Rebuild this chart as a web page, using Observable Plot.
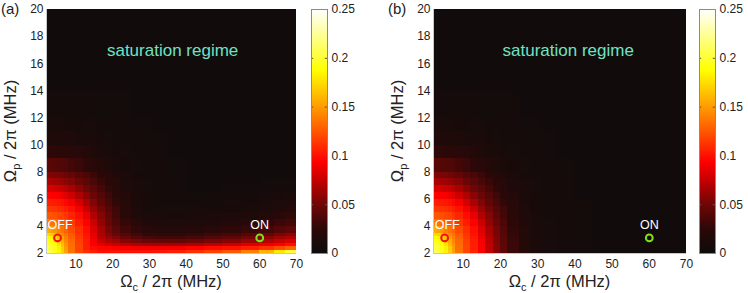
<!DOCTYPE html>
<html><head><meta charset="utf-8">
<script src="https://cdn.jsdelivr.net/npm/d3@7"></script>
<script src="https://cdn.jsdelivr.net/npm/@observablehq/plot@0.6"></script>
<style>
body{margin:0;background:#fff;}
#chart{position:relative;width:748px;height:293px;font-family:"Liberation Sans",Arial,sans-serif;}
#chart svg{position:absolute;top:0;overflow:visible;}
</style></head><body><div id="chart"></div>
<script>
// ---- grid (cell edges, MHz) ----
const xEdges = [2,3,4,5,6,7,8,10,12,14,16,18,20,22,25,28,31,35,40,45,50,55,60,64,67,70];
const yEdges = [2,2.25,2.5,2.75,3,3.25,3.5,4,4.5,5,5.5,6,6.5,7,7.5,8,9,10,11,12,14,20];
const xTicks = [10,20,30,40,50,60,70];
const yTicks = [2,4,6,8,10,12,14,16,18,20];
const cbTicks = [0,0.05,0.1,0.15,0.2,0.25];

// ---- panel (a) values, units of 0.001, rows from bottom (y=2) to top ----
const panelA = [
[210,202,194,184,169,153,135,119,110,105,100,100,100,100,100,100,102,105,110,117,125,140,160,180,200],
[205,199,192,182,167,151,134,119,105,98,95,95,93,92,90,90,90,92,95,98,100,105,112,120,128],
[199,195,189,177,163,148,133,118,105,92,85,80,76,72,68,66,65,66,68,72,76,82,88,93,98],
[193,190,183,171,157,143,131,117,104,91,77,70,64,57,52,48,46,46,48,52,57,63,70,76,82],
[186,182,174,163,151,139,129,115,103,89,71,62,55,47,40,36,34,34,36,40,44,50,57,64,70],
[174,170,164,154,143,136,126,113,101,87,69,56,48,40,33,28,26,26,28,31,35,40,46,53,58],
[156,153,148,140,135,130,121,110,99,83,66,51,42,34,27,22,19,18,19,22,25,29,34,40,44],
[137,135,133,130,126,122,114,104,94,78,60,47,37,28,21,17,14,13,14,16,18,21,25,30,34],
[125,124,122,119,117,113,107,98,86,70,56,44,34,23,15,12,11,10,11,12,13,15,18,22,26],
[114,113,112,110,108,105,100,90,77,62,50,40,31,22,14,10,9,9,9,10,10,11,13,16,19],
[105,104,103,102,100,96,91,80,67,55,44,36,27,20,12,10,8,8,8,8,9,10,11,13,15],
[95,94,93,91,88,85,78,68,58,48,40,31,24,18,12,10,7,7,6,7,8,8,9,10,11],
[81,81,79,77,75,72,66,58,49,42,35,26,22,16,11,9,7,7,5,5,6,6,7,7,8],
[67,66,65,63,61,59,55,48,42,36,29,24,20,13,11,9,7,6,5,5,5,5,6,6,6],
[55,54,53,52,50,48,45,40,36,30,24,21,17,12,10,8,7,6,5,5,5,5,5,5,5],
[41,41,40,39,38,37,34,30,25,22,19,15,12,10,9,7,7,6,5,5,5,5,5,5,5],
[25,25,25,24,24,23,22,20,18,15,12,11,10,9,7,7,6,5,5,5,5,5,5,5,5],
[16,16,16,15,15,15,14,12,11,11,10,9,8,7,7,6,6,5,5,5,5,5,5,5,5],
[11,11,11,11,11,10,10,10,9,9,8,7,7,7,6,6,5,5,5,5,5,5,5,5,5],
[7,7,7,7,7,7,7,7,7,6,6,6,6,6,5,5,5,5,5,5,5,5,5,5,5],
[5,5,5,5,5,5,5,5,5,5,5,5,5,5,5,5,5,5,5,5,5,5,5,5,5]
];

// ---- panel (b) values, units of 0.001 ----
const panelB = [
[210,202,194,184,169,153,135,119,106,93,74,56,43,30,19,12,9,7,6,5,5,5,5,5,5],
[205,199,192,182,167,151,134,119,105,93,74,56,43,30,19,12,9,7,6,5,5,5,5,5,5],
[199,195,189,177,163,148,133,118,105,92,73,55,43,30,19,12,9,7,6,5,5,5,5,5,5],
[193,190,183,171,157,143,131,117,104,91,72,55,42,30,19,12,9,7,6,5,5,5,5,5,5],
[186,182,174,163,151,139,129,115,103,89,71,54,42,29,19,11,9,7,6,5,5,5,5,5,5],
[174,170,164,154,143,136,126,113,101,87,69,53,41,28,18,11,9,7,6,5,5,5,5,5,5],
[156,153,148,140,135,130,121,110,99,83,66,51,40,27,18,11,9,7,6,5,5,5,5,5,5],
[137,135,133,130,126,122,114,104,94,78,60,47,37,25,17,11,9,7,6,5,5,5,5,5,5],
[125,124,122,119,117,113,107,98,86,70,56,44,34,23,15,11,8,7,6,5,5,5,5,5,5],
[114,113,112,110,108,105,100,90,77,62,50,40,31,22,14,10,8,7,6,5,5,5,5,5,5],
[105,104,103,102,100,96,91,80,67,55,44,36,27,20,12,10,7,7,6,5,5,5,5,5,5],
[95,94,93,91,88,85,78,68,58,48,40,31,24,18,12,10,7,7,5,5,5,5,5,5,5],
[81,81,79,77,75,72,66,58,49,42,35,26,22,16,11,9,7,7,5,5,5,5,5,5,5],
[67,66,65,63,61,59,55,48,42,36,29,24,20,13,11,9,7,6,5,5,5,5,5,5,5],
[55,54,53,52,50,48,45,40,36,30,24,21,17,12,10,8,7,6,5,5,5,5,5,5,5],
[41,41,40,39,38,37,34,30,25,22,19,15,12,10,9,7,7,6,5,5,5,5,5,5,5],
[25,25,25,24,24,23,22,20,18,15,12,11,10,9,7,7,6,5,5,5,5,5,5,5,5],
[16,16,16,15,15,15,14,12,11,11,10,9,8,7,7,6,6,5,5,5,5,5,5,5,5],
[11,11,11,11,11,10,10,10,9,9,8,7,7,7,6,6,5,5,5,5,5,5,5,5,5],
[7,7,7,7,7,7,7,7,7,6,6,6,6,6,5,5,5,5,5,5,5,5,5,5,5],
[5,5,5,5,5,5,5,5,5,5,5,5,5,5,5,5,5,5,5,5,5,5,5,5,5]
];

// ---- markers and annotations ----
const markerLabels = ["OFF","ON"];
const markerX = [5,60];
const markerY = [3.15,3.15];
const markerColors = ["#f01414","#7fe01c"];
const annotText = "saturation regime";
const annotXA = 36.3, annotXB = 38.2, annotY = 17.0;

// ---- colormap (MATLAB "hot"-like) ----
const cmapStops = [0,0.025,0.05,0.075,0.094,0.14,0.1875,0.25];
const cmapColors = ["#0c0c0c","#2c0808","#700606","#c40000","#ff0000","#ff8000","#ffff00","#ffffff"];
const colorScale = {type:"linear", domain:cmapStops, range:cmapColors, interpolate:"rgb", clamp:true};

const font = "Liberation Sans, Arial, sans-serif";
const style = {fontFamily:font, fontSize:"12px", color:"#222", background:"transparent", overflow:"visible"};

function cells(rows){
  const out=[];
  rows.forEach((row,i)=>row.forEach((v,j)=>out.push({x1:xEdges[j],x2:xEdges[j+1],y1:yEdges[i],y2:yEdges[i+1],v:v/1000})));
  return out;
}
const markers = markerLabels.map((l,i)=>({label:l,x:markerX[i],y:markerY[i]}));

function heat(rows, width, annotX, tag){
  const fw = tag==="a"?250:253;
  const svg = Plot.plot({
    width, height:293, marginLeft:46, marginRight:width-46-fw, marginTop:9, marginBottom:40,
    style,
    x:{domain:[2,70], ticks:xTicks, tickSize:0, tickPadding:6, label:null},
    y:{domain:[2,20], ticks:yTicks, tickSize:0, tickPadding:3, label:null},
    color:colorScale,
    marks:[
      Plot.rect(cells(rows), {x1:"x1",x2:"x2",y1:"y1",y2:"y2",fill:"v",shapeRendering:"crispEdges"}),
      Plot.ruleX([2],{stroke:"#c8c8c8"}),
      Plot.ruleY([2],{stroke:"#c8c8c8"}),
      Plot.text([annotText],{x:annotX,y:annotY,text:d=>d,fill:"#6fe2c2",fontSize:17}),
      Plot.dot([markers[0]],{x:"x",y:"y",r:3.4,stroke:markerColors[0],strokeWidth:2,fill:"none"}),
      Plot.dot([markers[1]],{x:"x",y:"y",r:3.4,stroke:markerColors[1],strokeWidth:2,fill:"none"}),
      Plot.text([markers[0]],{x:"x",y:"y",text:"label",fill:"#fff",fontSize:12.5,dy:-13,dx:2.5}),
      Plot.text([markers[1]],{x:"x",y:"y",text:"label",fill:"#fff",fontSize:12.5,dy:-13})
    ]
  });
  const s = d3.select(svg);
  s.append("text").attr("x",1).attr("y",14).attr("text-anchor","start").attr("font-size",15).attr("fill","#222").attr("font-family",font).text("("+tag+")");
  const yl = s.append("text").attr("transform",`translate(16,131) rotate(-90)`).attr("text-anchor","middle")
    .attr("font-size",16.5).attr("fill","#222").attr("font-family",font);
  yl.append("tspan").text("Ω");
  yl.append("tspan").attr("font-size",11).attr("dy",4).text("p");
  yl.append("tspan").attr("dy",-4).text(" / 2π (MHz)");
  const xl = s.append("text").attr("x",46+fw/2).attr("y",287).attr("text-anchor","middle")
    .attr("font-size",16.5).attr("fill","#222").attr("font-family",font);
  xl.append("tspan").text("Ω");
  xl.append("tspan").attr("font-size",11).attr("dy",4).text("c");
  xl.append("tspan").attr("dy",-4).text(" / 2π (MHz)");
  return svg;
}

function colorbar(width){
  return Plot.plot({
    width, height:293, marginLeft:11, marginRight:width-11-16, marginTop:9, marginBottom:40,
    style,
    x:{domain:[0,1], axis:null},
    y:{domain:[0,0.25], ticks:cbTicks, tickSize:0, tickPadding:4, tickFormat:d=>String(+d.toFixed(2)), label:null, axis:"right"},
    color:colorScale,
    marks:[
      Plot.raster({x1:0,x2:1,y1:0,y2:0.25,width:1,height:250,fill:(x,y)=>y,imageRendering:"auto"}),
      Plot.ruleY(cbTicks,{x1:0,x2:0.14,stroke:"#555"}),
      Plot.ruleY(cbTicks,{x1:0.86,x2:1,stroke:"#555"}),
      Plot.frame({stroke:"#8a8a8a"})
    ]
  });
}

const root = document.getElementById("chart");
function place(svg,left){ svg.style.left=left+"px"; root.appendChild(svg); }
place(heat(panelA,300,annotXA,"a"),0);
place(colorbar(60),300);
place(heat(panelB,303,annotXB,"b"),387);
place(colorbar(60),688);
</script></body></html>
